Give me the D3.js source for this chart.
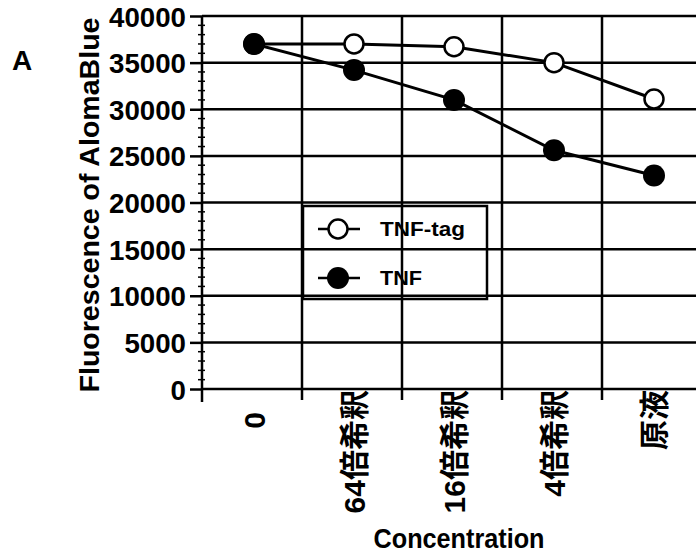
<!DOCTYPE html>
<html><head><meta charset="utf-8">
<script src="https://cdn.jsdelivr.net/npm/d3@7"></script>
<style>
html,body{margin:0;padding:0;background:#fff;}
svg{display:block;}
text{font-family:"Liberation Sans","Noto Sans CJK JP",sans-serif;font-weight:bold;fill:#000;}
</style></head>
<body>
<svg id="chart" width="696" height="558"></svg>
<script>
const categories = ["0", "64倍希釈", "16倍希釈", "4倍希釈", "原液"];
const tnfTag = [37000, 37000, 36700, 35000, 31100];
const tnf = [37000, 34200, 31000, 25600, 22900];
const seriesNames = ["TNF-tag", "TNF"];
const yTicks = [0, 5000, 10000, 15000, 20000, 25000, 30000, 35000, 40000];
const yTitle = "Fluorescence of AlomaBlue";
const xTitle = "Concentration";
const panelLabel = "A";

(function(){
const svg = d3.select("#chart");
const pL = 202, pR = 702, pT = 16, pB = 389;

const x = d3.scaleBand().domain(categories).range([pL, pR]).padding(0);
const y = d3.scaleLinear().domain([0, 40000]).range([pB, pT]);
const cx = i => x(categories[i]) + x.bandwidth() / 2 + 2;

// horizontal gridlines
svg.append("g").selectAll("line").data(yTicks.filter(d => d > 0)).join("line")
  .attr("x1", pL).attr("x2", 696)
  .attr("y1", d => y(d)).attr("y2", d => y(d))
  .attr("stroke", "#000").attr("stroke-width", 2.5);

// vertical gridlines at band boundaries
const bounds = categories.slice(1).map(c => x(c));
svg.append("g").selectAll("line").data(bounds).join("line")
  .attr("x1", d => d).attr("x2", d => d)
  .attr("y1", pT).attr("y2", pB + 11)
  .attr("stroke", "#000").attr("stroke-width", 2.5);

// x axis line
svg.append("line").attr("x1", pL).attr("x2", 696).attr("y1", pB).attr("y2", pB)
  .attr("stroke", "#000").attr("stroke-width", 2.5);

// y axis
const yAxis = d3.axisLeft(y).tickValues(yTicks).tickSize(12).tickPadding(4).tickFormat(d3.format("d"));
const gy = svg.append("g").attr("transform", `translate(${pL},0)`).call(yAxis);
gy.select(".domain").remove();
gy.selectAll(".tick line").attr("stroke", "#000").attr("stroke-width", 2.5);
gy.selectAll(".tick text").attr("font-size", 28).attr("font-family", "Liberation Sans")
  .attr("font-weight", "bold").attr("dy", "0.36em").attr("lengthAdjust", "spacingAndGlyphs")
  .each(function(d){ d3.select(this).attr("textLength", String(d).length * 15.4); });
svg.append("line").attr("x1", pL).attr("x2", pL).attr("y1", pT).attr("y2", pB + 13)
  .attr("stroke", "#000").attr("stroke-width", 2.5);

// minor ticks
const minor = d3.range(1000, 40000, 1000).filter(v => v % 5000 !== 0);
svg.append("g").selectAll("line").data(minor).join("line")
  .attr("x1", pL - 4).attr("x2", pL + 3)
  .attr("y1", d => y(d)).attr("y2", d => y(d))
  .attr("stroke", "#000").attr("stroke-width", 1.5);

// x tick labels (rotated)
svg.append("g").selectAll("text").data(categories).join("text")
  .attr("transform", (d, i) => `translate(${cx(i)},${d === "0" ? 412 : 390}) rotate(-90)`)
  .attr("text-anchor", "end").attr("dy", "0.36em")
  .attr("font-size", 30)
  .text(d => d);

// lines
const line = d3.line().x((d, i) => cx(i)).y(d => y(d));
svg.append("path").datum(tnfTag).attr("d", line).attr("fill", "none").attr("stroke", "#000").attr("stroke-width", 3);
svg.append("path").datum(tnf).attr("d", line).attr("fill", "none").attr("stroke", "#000").attr("stroke-width", 3);

svg.append("g").selectAll("circle").data(tnfTag).join("circle")
  .attr("cx", (d, i) => cx(i)).attr("cy", d => y(d))
  .attr("r", 9.5).attr("fill", "#fff").attr("stroke", "#000").attr("stroke-width", 2.5);
svg.append("g").selectAll("circle").data(tnf).join("circle")
  .attr("cx", (d, i) => cx(i)).attr("cy", d => y(d))
  .attr("r", 11).attr("fill", "#000");

// legend
const lg = svg.append("g");
lg.append("rect").attr("x", 303).attr("y", 206).attr("width", 184).attr("height", 93)
  .attr("fill", "none").attr("stroke", "#000").attr("stroke-width", 2.5);
const legY = [229, 278];
const legW = [85, 42];
seriesNames.forEach((name, i) => {
  lg.append("line").attr("x1", 318).attr("x2", 360).attr("y1", legY[i]).attr("y2", legY[i])
    .attr("stroke", "#000").attr("stroke-width", 2.5);
  if (i === 0) {
    lg.append("circle").attr("cx", 338).attr("cy", legY[i]).attr("r", 9.5)
      .attr("fill", "#fff").attr("stroke", "#000").attr("stroke-width", 2.5);
  } else {
    lg.append("circle").attr("cx", 338).attr("cy", legY[i]).attr("r", 11).attr("fill", "#000");
  }
  lg.append("text").attr("x", 380).attr("y", legY[i]).attr("dy", "0.36em")
    .attr("font-size", 20).attr("textLength", legW[i]).attr("lengthAdjust", "spacingAndGlyphs").text(name);
});

// axis titles
svg.append("text").attr("transform", "translate(89,205) rotate(-90)")
  .attr("text-anchor", "middle").attr("dy", "0.36em").attr("font-size", 28)
  .attr("textLength", 375).attr("lengthAdjust", "spacingAndGlyphs").text(yTitle);
svg.append("text").attr("x", 459).attr("y", 548).attr("text-anchor", "middle")
  .attr("font-size", 28).attr("textLength", 171).attr("lengthAdjust", "spacingAndGlyphs").text(xTitle);
svg.append("text").attr("x", 22).attr("y", 70).attr("text-anchor", "middle")
  .attr("font-size", 28).text(panelLabel);
})();
</script>
</body></html>
